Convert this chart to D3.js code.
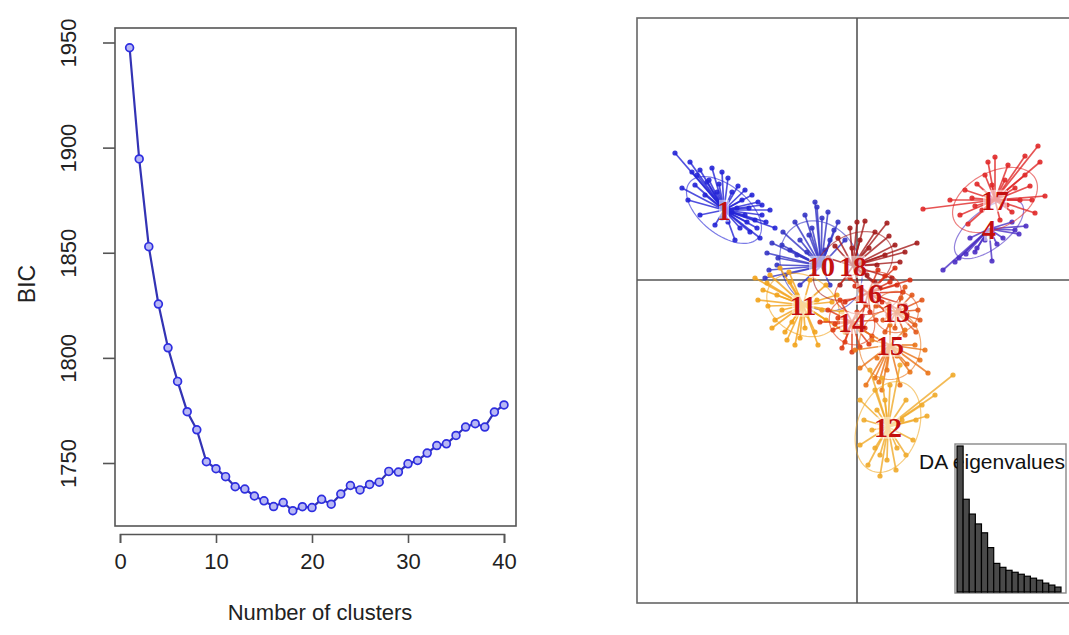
<!DOCTYPE html>
<html><head><meta charset="utf-8">
<script src="https://cdn.jsdelivr.net/npm/d3@7"></script>
<style>html,body{margin:0;padding:0;background:#fff;}svg{display:block;}</style>
</head><body>
<svg id="c" width="1069" height="635"></svg>
<script>
// ---------- Left panel: BIC vs number of clusters ----------
const clusterCounts = [1,2,3,4,5,6,7,8,9,10,11,12,13,14,15,16,17,18,19,20,21,22,23,24,25,26,27,28,29,30,31,32,33,34,35,36,37,38,39,40];
const bicValues = [1947.5,1894.6,1852.9,1825.6,1804.8,1788.8,1774.4,1765.8,1750.6,1747.3,1743.5,1738.7,1737.6,1734.3,1732.0,1729.3,1731.2,1727.3,1729.2,1728.8,1732.7,1730.4,1735.2,1739.3,1737.2,1739.8,1740.9,1746.0,1745.7,1749.6,1751.2,1754.7,1758.3,1759.1,1763.1,1767.1,1768.7,1767.1,1774.2,1777.6];
const xTicks = [0,10,20,30,40];
const yTicks = [1750,1800,1850,1900,1950];
const xLabel = "Number of clusters";
const yLabel = "BIC";

// ---------- Right panel: DAPC scatter ----------
const clusterIds = ["1","10","11","18","4","17","16","14","13","15","12"];
const clusterColors = ["#2424d6","#3434c4","#f2a31c","#a41c1c","#4b2fc4","#e02828","#d82c12","#e03c14","#e2561a","#ea7418","#f0aa2a"];
const clusterCenters = [[-13.3,7.0],[-3.6,1.4],[-5.4,-2.5],[-0.4,1.4],[13.2,5.1],[13.8,8.0],[1.1,-1.3],[-0.5,-4.2],[3.9,-3.2],[3.3,-6.5],[3.1,-14.7]];
const pts1 = [[-18.2,12.7],[-16.7,11.8],[-15.7,11.0],[-14.5,11.2],[-13.5,10.8],[-12.9,10.2],[-11.9,9.4],[-11.2,9.0],[-10.5,8.5],[-9.5,7.5],[-8.7,7.0],[-9.1,5.8],[-8.2,5.2],[-9.7,4.2],[-10.7,4.8],[-11.7,5.2],[-12.2,4.0],[-12.9,5.8],[-14.2,5.5],[-15.7,6.5],[-16.9,8.0],[-17.5,9.2],[-16.2,9.5],[-15.2,8.5],[-11.2,6.5],[-10.2,6.0],[-9.9,7.8],[-11.5,8.0],
  [-16.0,10.5],[-14.8,10.0],[-13.8,9.6],[-12.5,8.8],[-14.0,8.8],[-15.0,9.8],[-12.0,7.2],[-10.8,7.2],[-11.0,5.8],[-13.5,6.2],[-12.5,6.8],[-16.5,10.8],[-10.0,5.2],[-9.5,6.5]];
const pts10 = [[-4.0,7.3],[-5.2,6.5],[-6.2,5.8],[-7.4,4.8],[-8.5,3.7],[-9.0,2.7],[-7.9,2.2],[-2.9,6.8],[-1.9,5.8],[-4.5,5.2],[-5.7,4.0],[-6.7,3.0],[-1.2,4.0],[-9.2,0.2],[-2.7,4.0],[-7.2,0.5],[-5.7,-0.5],[-2.7,-0.5],
  [-3.5,6.2],[-4.8,4.5],[-6.0,2.5],[-8.0,1.5],[-3.2,3.0],[-5.0,2.8],[-7.5,3.5],[-2.3,5.0],[-8.8,1.0],[-4.2,7.8]];
const pts11 = [[-8.7,0.5],[-9.4,-1.0],[-8.9,-2.6],[-8.2,-4.0],[-7.2,-5.2],[-5.7,-5.8],[-4.2,-5.2],[-3.1,-4.0],[-2.5,-2.2],[-3.1,-0.5],[-6.7,-0.2],[-7.7,1.2],[-4.7,0.0],[-6.2,-6.5],[-8.5,-4.8],[-9.9,-2.0],[-3.9,-6.5],[-1.5,-3.2],[-1.2,-5.2],
  [-6.0,-1.5],[-7.5,-3.0],[-5.0,-3.5],[-4.0,-2.0],[-6.5,-4.2],[-9.0,-0.3],[-8.0,-1.5],[-3.5,-3.0],[-5.2,-4.8],[-7.0,-6.0],[-2.0,-1.5],[-10.2,0.2],[-6.8,0.8]];
const pts18 = [[0.8,5.9],[3.0,5.7],[1.8,4.8],[3.8,3.5],[4.3,1.8],[-0.7,5.2],[-1.9,4.2],[0.3,4.0],[3.5,0.2],[2.3,-0.8],[0.3,-1.0],[-1.7,-0.5],[6.0,3.7],[-2.9,2.2],[2.8,2.5],
  [1.2,3.2],[2.0,1.5],[-0.5,3.2],[-1.0,2.0],[1.0,0.5],[3.2,4.4],[4.8,2.8],[0.0,5.8],[-2.2,3.4],[1.8,-0.2]];
const pts4 = [[8.6,1.0],[9.8,1.8],[10.9,2.6],[12.0,3.2],[13.5,1.9],[14.6,4.2],[15.8,5.0],[16.9,5.4],[15.5,5.8],[11.3,4.2],[12.8,4.0],
  [11.8,2.8],[14.0,3.6],[10.2,2.2],[16.2,4.6]];
const pts17 = [[18.1,13.4],[18.3,11.8],[16.8,12.4],[15.1,11.5],[13.1,11.8],[12.8,10.5],[17.3,9.4],[18.8,8.4],[17.8,6.7],[15.5,6.8],[11.8,7.4],[6.6,7.1],[10.3,6.5],[11.1,5.6],[14.3,6.0],[16.3,8.0],[10.8,9.0],[14.8,10.0],[9.3,8.0],
  [12.0,9.6],[13.5,9.5],[15.8,9.2],[16.8,10.5],[11.5,8.2],[15.0,7.5],[12.5,7.0],[17.5,8.0],[13.8,12.3]];
const pts16 = [[-0.7,0.2],[3.3,-0.2],[4.6,-1.2],[4.8,-2.5],[3.1,-3.5],[0.5,-3.6],[-1.2,-2.2],[2.1,1.0],[3.8,1.2],[1.3,-3.2],[5.3,0.0],
  [2.5,-2.2],[4.0,-0.5],[0.2,-1.8],[2.8,0.4],[-0.2,-0.6],[4.2,-3.0]];
const pts14 = [[-2.9,-3.0],[-2.4,-5.0],[-1.2,-6.2],[0.3,-6.7],[1.5,-5.6],[1.9,-4.0],[0.9,-2.5],[-1.7,-2.0],[-0.5,-7.2],[-3.7,-4.2],[-1.9,-3.8],
  [-1.0,-5.2],[0.8,-4.8],[-2.2,-4.4],[0.0,-3.2],[-1.5,-6.8],[1.2,-6.4]];
const pts13 = [[5.5,-1.5],[6.1,-3.0],[5.8,-4.5],[4.8,-5.5],[2.8,-5.2],[1.9,-2.6],[4.8,-0.7],[6.5,-2.0],[3.8,-4.8],[6.3,-4.0],
  [5.0,-3.4],[4.4,-1.8],[3.2,-2.4],[5.9,-5.2],[2.6,-4.0]];
const pts15 = [[0.5,-5.0],[4.8,-5.0],[5.8,-6.5],[6.3,-8.0],[7.1,-9.3],[5.3,-9.2],[4.3,-10.5],[2.5,-11.0],[0.9,-10.5],[0.3,-8.8],[-0.2,-7.0],[3.3,-4.5],[1.8,-9.8],
  [2.0,-7.8],[4.0,-7.6],[1.5,-6.0],[5.0,-8.4],[3.0,-9.0],[6.8,-7.0],[2.2,-10.2]];
const pts12 = [[9.6,-9.5],[7.0,-13.6],[0.3,-12.0],[0.7,-14.0],[0.3,-16.5],[1.1,-18.5],[2.3,-19.6],[3.9,-19.0],[4.9,-17.5],[5.6,-16.0],[5.9,-14.0],[4.9,-12.0],[3.3,-10.5],[1.8,-11.0],[1.3,-9.0],[4.3,-8.5],[7.8,-11.5],[2.3,-17.5],
  [2.0,-13.0],[3.5,-15.5],[4.5,-14.0],[1.5,-15.0],[2.8,-12.0],[3.0,-18.0],[4.0,-16.8],[1.8,-16.8],[6.5,-12.5],[2.5,-9.8]];
const clusterPoints = [pts1,pts10,pts11,pts18,pts4,pts17,pts16,pts14,pts13,pts15,pts12];
const eigenvalues = [148,94,79,69,60,45,29,25,22,20,18,16,14,12,9,7,5];
const insetTitle = "DA eigenvalues";

const svg = d3.select("#c");
const SANS = "Liberation Sans, Arial, sans-serif";

// ===== Left panel =====
const x = d3.scaleLinear().domain([0,40]).range([120,504]);
const y = d3.scaleLinear().domain([1750,1950]).range([463,42.5]);
const L = svg.append("g");
L.append("rect").attr("x",115).attr("y",28).attr("width",401).attr("height",498)
  .attr("fill","none").attr("stroke","#555").attr("stroke-width",1.6);

const xAxis = L.append("g").attr("transform","translate(0,534)")
  .call(d3.axisBottom(x).tickValues(xTicks).tickFormat(d3.format("d")).tickSize(9).tickPadding(10));
const yAxis = L.append("g").attr("transform","translate(115,0)")
  .call(d3.axisLeft(y).tickValues(yTicks).tickFormat(d3.format("d")).tickSize(12).tickPadding(6));
[xAxis,yAxis].forEach(a=>{
  a.select(".domain").attr("stroke","#555").attr("stroke-width",1.6);
  a.selectAll(".tick line").attr("stroke","#555").attr("stroke-width",1.6);
  a.selectAll("text").attr("font-family",SANS).attr("font-size",22).attr("fill","#222");
});
yAxis.select(".domain").remove();
yAxis.selectAll(".tick text").attr("transform","rotate(-90)").attr("text-anchor","middle")
  .attr("x",0).attr("y",-47).attr("dy","0.35em");

L.append("text").attr("x",320).attr("y",620).attr("text-anchor","middle")
  .attr("font-family",SANS).attr("font-size",22).attr("fill","#222").text(xLabel);
L.append("text").attr("transform","translate(35,284) rotate(-90)").attr("text-anchor","middle")
  .attr("font-family",SANS).attr("font-size",23).attr("fill","#222").text(yLabel);

const line = d3.line().x((d,i)=>x(clusterCounts[i])).y(d=>y(d));
L.append("path").datum(bicValues).attr("d",line).attr("fill","none")
  .attr("stroke","#3333b4").attr("stroke-width",2.2);
L.selectAll("circle.b").data(bicValues).join("circle").attr("class","b")
  .attr("cx",(d,i)=>x(clusterCounts[i])).attr("cy",d=>y(d)).attr("r",3.9)
  .attr("fill","#b8b8f4").attr("stroke","#2e2ee0").attr("stroke-width",1.7);

// ===== Right panel =====
const sx = d3.scaleLinear().domain([-22,22]).range([637,1077]);
const sy = d3.scaleLinear().domain([-32.3,26.2]).range([603,18]);
const R = svg.append("g");
R.append("rect").attr("x",sx(-22)).attr("y",sy(26.2)).attr("width",sx(22)-sx(-22)+10).attr("height",sy(-32.3)-sy(26.2))
  .attr("fill","#fff").attr("stroke","#666").attr("stroke-width",1.6);
R.append("line").attr("x1",sx(0)).attr("x2",sx(0)).attr("y1",sy(26.2)).attr("y2",sy(-32.3)).attr("stroke","#555").attr("stroke-width",1.6);
R.append("line").attr("x1",sx(-22)).attr("x2",sx(22)+10).attr("y1",sy(0)).attr("y2",sy(0)).attr("stroke","#555").attr("stroke-width",1.6);

function ellipsePath(center, pts){
  const n = pts.length;
  let sxx=0, syy=0, sxy=0;
  pts.forEach(p=>{const dx=p[0]-center[0], dy=p[1]-center[1]; sxx+=dx*dx; syy+=dy*dy; sxy+=dx*dy;});
  sxx/=n; syy/=n; sxy/=n;
  const tr=(sxx+syy)/2, det=Math.sqrt(((sxx-syy)/2)**2+sxy*sxy);
  const l1=tr+det, l2=Math.max(tr-det,1e-6);
  const th=0.5*Math.atan2(2*sxy, sxx-syy);
  const a=1.4*Math.sqrt(l1), b=1.4*Math.sqrt(l2);
  const out=[];
  for(let k=0;k<=72;k++){
    const t=k/72*2*Math.PI;
    const ex=a*Math.cos(t), ey=b*Math.sin(t);
    out.push([center[0]+ex*Math.cos(th)-ey*Math.sin(th), center[1]+ex*Math.sin(th)+ey*Math.cos(th)]);
  }
  return d3.line().x(d=>sx(d[0])).y(d=>sy(d[1]))(out);
}

svg.append("clipPath").attr("id","rc").append("rect")
  .attr("x",sx(-22)).attr("y",sy(26.2)).attr("width",500).attr("height",sy(-32.3)-sy(26.2));
const G = R.append("g").attr("clip-path","url(#rc)");
clusterIds.forEach((id,i)=>{
  const c = clusterCenters[i], col = clusterColors[i], pts = clusterPoints[i];
  const g = G.append("g");
  g.append("path").attr("d",ellipsePath(c,pts)).attr("fill","none").attr("stroke",col)
    .attr("stroke-opacity",0.6).attr("stroke-width",1.2);
  g.selectAll("line").data(pts).join("line")
    .attr("x1",sx(c[0])).attr("y1",sy(c[1])).attr("x2",d=>sx(d[0])).attr("y2",d=>sy(d[1]))
    .attr("stroke",col).attr("stroke-opacity",0.8).attr("stroke-width",1.7);
  g.selectAll("circle").data(pts).join("circle")
    .attr("cx",d=>sx(d[0])).attr("cy",d=>sy(d[1])).attr("r",2.6).attr("fill",col).attr("fill-opacity",0.9);
});

// labels
clusterIds.forEach((id,i)=>{
  const c = clusterCenters[i];
  const t = R.append("text").attr("x",sx(c[0])).attr("y",sy(c[1])).attr("dy","0.35em")
    .attr("text-anchor","middle").attr("font-family","Liberation Serif, Times New Roman, serif")
    .attr("font-weight","bold").attr("font-size",28).attr("fill","#c40f0f").text(id);
  const bb = t.node().getBBox();
  R.insert("rect", () => t.node()).attr("x",bb.x+2).attr("y",bb.y+5).attr("width",bb.width-4).attr("height",bb.height-9)
    .attr("fill","#fff").attr("fill-opacity",0.55);
});

// inset eigenvalues
const ix = d3.scaleBand().domain(eigenvalues.map((d,i)=>i)).range([957,1061]).padding(0);
const iy = d3.scaleLinear().domain([0,148]).range([592,446]);
R.append("rect").attr("x",955).attr("y",444).attr("width",111).attr("height",149)
  .attr("fill","#fff").attr("stroke","#888").attr("stroke-width",1.4);
R.append("text").attr("x",919).attr("y",469).attr("font-family",SANS)
  .attr("font-size",21).attr("fill","#111").text(insetTitle);
R.selectAll("rect.eig").data(eigenvalues).join("rect").attr("class","eig")
  .attr("x",(d,i)=>ix(i)).attr("y",d=>iy(d)).attr("width",ix.bandwidth()).attr("height",d=>592-iy(d))
  .attr("fill","#4a4a4a").attr("stroke","#000").attr("stroke-width",1.2);
</script>
</body></html>
